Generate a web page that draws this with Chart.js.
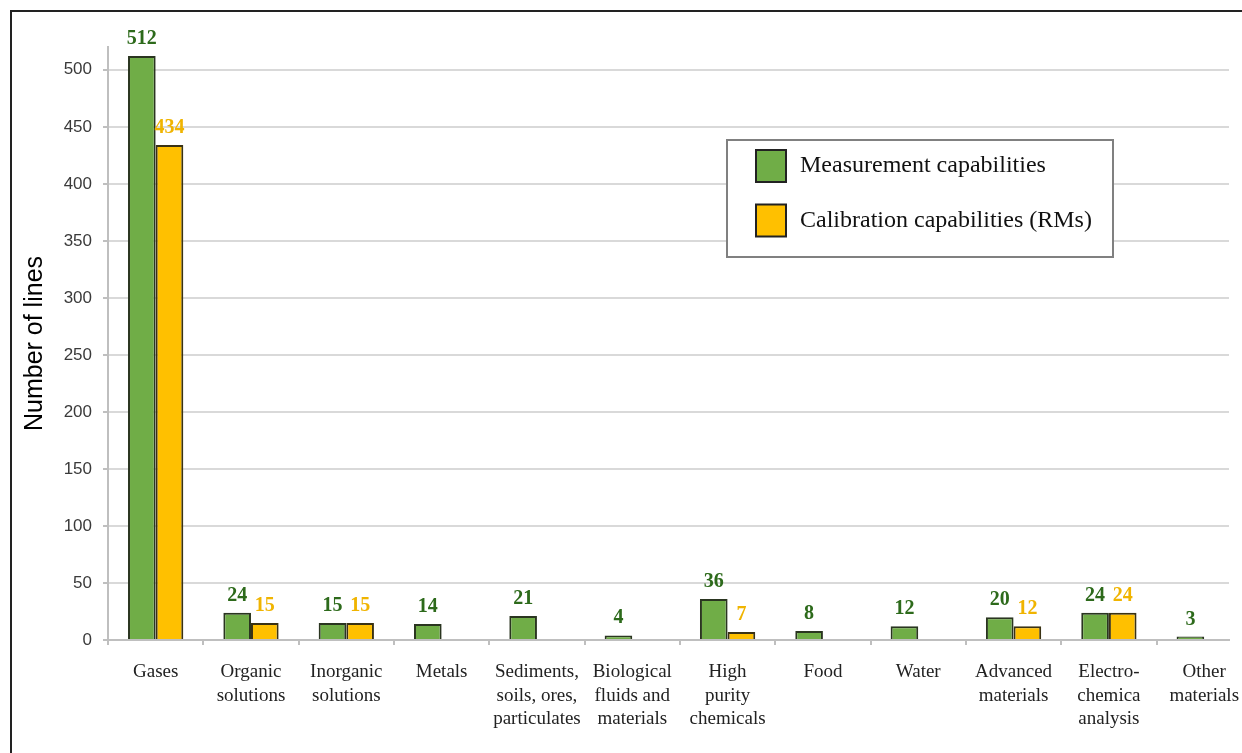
<!DOCTYPE html>
<html>
<head>
<meta charset="utf-8" />
<title>Number of lines by category</title>
<script src="https://cdn.jsdelivr.net/npm/chart.js"></script>
<style>
  html, body { margin: 0; padding: 0; background: #fff; overflow: hidden; }
  .frame { position: relative; width: 1242px; height: 753px; }
  .frame::before {
    content: ''; position: absolute; left: 10px; top: 10px; right: 0; bottom: 0;
    border-top: 2px solid #222; border-left: 2px solid #222; pointer-events: none;
  }
  canvas { display: block; }
</style>
</head>
<body>
<div class="frame"><canvas id="chart" width="1242" height="753"></canvas></div>
<script>
const categories = [
  'Gases', ['Organic', 'solutions'], ['Inorganic', 'solutions'], 'Metals',
  ['Sediments,', 'soils, ores,', 'particulates'], ['Biological', 'fluids and', 'materials'],
  ['High', 'purity', 'chemicals'], 'Food', 'Water', ['Advanced', 'materials'],
  ['Electro-', 'chemica', 'analysis'], ['Other', 'materials']
];
const measurement = [512, 24, 15, 14, 21, 4, 36, 8, 12, 20, 24, 3];
const calibration = [434, 15, 15, null, null, null, 7, null, null, 12, 24, null];
const yTicks = [0, 50, 100, 150, 200, 250, 300, 350, 400, 450, 500];

const SERIF = '"Liberation Serif", "Times New Roman", serif';
const SANS = '"Liberation Sans", Arial, sans-serif';

// numbers above each bar, coloured per series
const valueLabels = {
  id: 'valueLabels',
  afterDatasetsDraw(chart) {
    const ctx = chart.ctx;
    ctx.save();
    ctx.font = 'bold 20px ' + SERIF;
    ctx.textAlign = 'center';
    ctx.textBaseline = 'alphabetic';
    chart.data.datasets.forEach((ds, i) => {
      ctx.fillStyle = ds.valueColor;
      chart.getDatasetMeta(i).data.forEach((bar, j) => {
        if (ds.data[j] == null) return;
        ctx.fillText(ds.data[j], bar.x, bar.y - 12);
      });
    });
    ctx.restore();
  }
};

// boxed legend sitting inside the plot
const boxLegend = {
  id: 'boxLegend',
  afterDraw(chart) {
    const ctx = chart.ctx;
    const x = 727, y = 140, w = 386, h = 117;
    ctx.save();
    ctx.fillStyle = '#fff';
    ctx.fillRect(x, y, w, h);
    ctx.strokeStyle = '#808080';
    ctx.lineWidth = 2;
    ctx.strokeRect(x, y, w, h);
    ctx.font = '24px ' + SERIF;
    ctx.textBaseline = 'middle';
    ctx.textAlign = 'left';
    chart.data.datasets.forEach((ds, i) => {
      const cy = y + 26 + i * 54.5;
      ctx.fillStyle = ds.backgroundColor;
      ctx.fillRect(x + 29, cy - 16, 30, 32);
      ctx.strokeStyle = '#222';
      ctx.lineWidth = 2;
      ctx.strokeRect(x + 29, cy - 16, 30, 32);
      ctx.fillStyle = '#111';
      ctx.fillText(ds.label, x + 73, cy);
    });
    ctx.restore();
  }
};

new Chart(document.getElementById('chart'), {
  type: 'bar',
  data: {
    labels: categories,
    datasets: [
      {
        label: 'Measurement capabilities',
        data: measurement,
        backgroundColor: '#70ad47',
        borderColor: '#2a3520',
        borderWidth: 2,
        valueColor: '#2d6a1b'
      },
      {
        label: 'Calibration capabilities (RMs)',
        data: calibration,
        backgroundColor: '#ffc000',
        borderColor: '#3a3214',
        borderWidth: 2,
        valueColor: '#f0b400'
      }
    ]
  },
  options: {
    responsive: false,
    animation: false,
    layout: { padding: { top: 47, right: 13, bottom: 0, left: 0 } },
    datasets: { bar: { categoryPercentage: 0.58, barPercentage: 1 } },
    plugins: {
      legend: { display: false },
      tooltip: { enabled: false }
    },
    scales: {
      x: {
        grid: { drawOnChartArea: false, offset: true, tickLength: 5, tickColor: '#bfbfbf', lineWidth: 2 },
        border: { color: '#bfbfbf', width: 2 },
        ticks: {
          font: { family: SERIF, size: 19, lineHeight: 1.25 },
          color: '#222',
          padding: 15,
          maxRotation: 0,
          autoSkip: false
        },
        // the last category runs off the right edge of the plot
        afterBuildTicks: s => { s._valueRange = s.ticks.length - 0.24; },
        afterFit: s => { s.height = 113; s.paddingLeft = 0; s.paddingRight = 0; }
      },
      y: {
        min: 0,
        max: 520,
        grid: { color: '#d9d9d9', lineWidth: 2, tickLength: 5, tickColor: '#bfbfbf' },
        border: { color: '#bfbfbf', width: 2 },
        ticks: { font: { family: SANS, size: 17 }, color: '#3a3a3a', padding: 11 },
        title: {
          display: true,
          text: 'Number of lines',
          font: { family: SANS, size: 25 },
          color: '#000',
          padding: { top: 20, bottom: 0 }
        },
        afterBuildTicks: s => { s.ticks = yTicks.map(v => ({ value: v })); },
        afterFit: s => { s.width = 108; }
      }
    }
  },
  plugins: [valueLabels, boxLegend]
});
</script>
</body>
</html>
